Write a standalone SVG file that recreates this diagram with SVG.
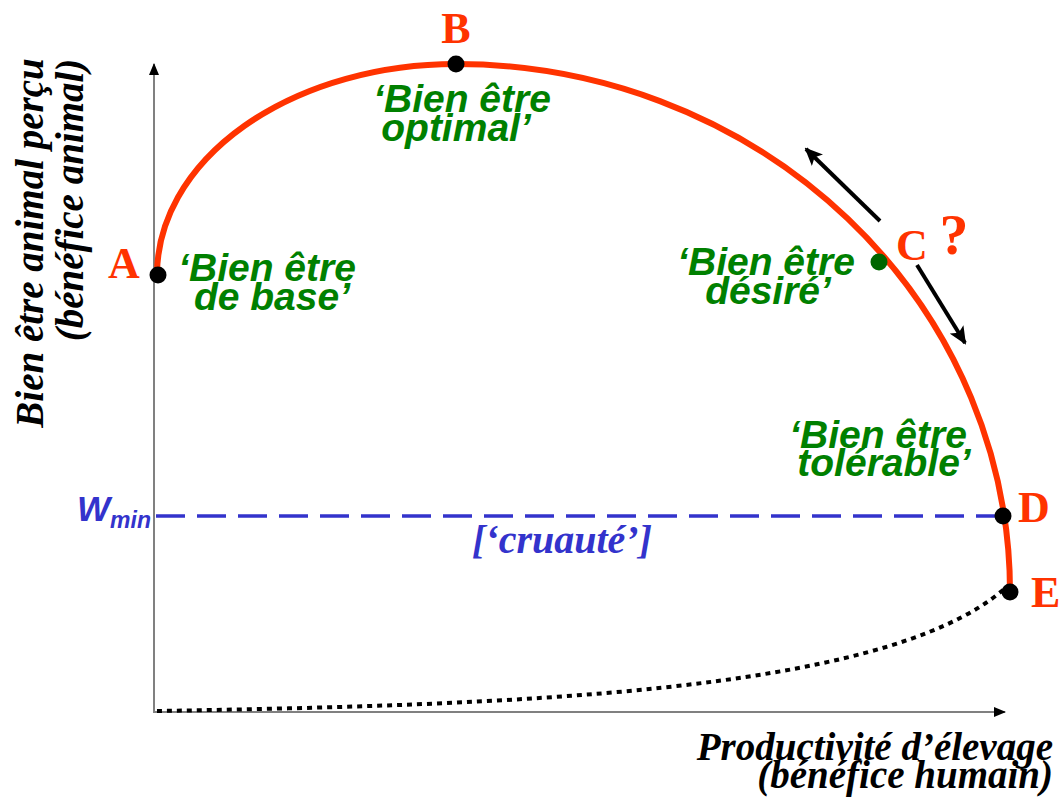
<svg xmlns="http://www.w3.org/2000/svg" width="1059" height="801" viewBox="0 0 1059 801">
<defs>
<style>
.axis{stroke:#808080;stroke-width:2;fill:none}
.curve{stroke:#FF3300;stroke-width:6;fill:none}
.lbl{font-family:"Liberation Serif","Times New Roman",serif;font-weight:bold;fill:#FF3300;font-size:44px}
.q{font-size:58px}
.zone{font-family:"Liberation Sans",Arial,sans-serif;font-weight:bold;font-style:italic;fill:#008000;font-size:39px;text-anchor:middle}
.ax{font-family:"Liberation Serif","Times New Roman",serif;font-weight:bold;font-style:italic;fill:#000;font-size:39px}
.dot{fill:#000}
</style>
<marker id="axh" markerWidth="12" markerHeight="10" refX="11" refY="5" orient="auto" markerUnits="userSpaceOnUse">
<path d="M0,0 L12,5 L0,10 Z" fill="#000"/>
</marker>
<marker id="arh" markerWidth="18" markerHeight="16" refX="16" refY="8" orient="auto" markerUnits="userSpaceOnUse">
<path d="M0,0 L18,8 L0,16 L4,8 Z" fill="#000"/>
</marker>
</defs>
<rect width="1059" height="801" fill="#fff"/>
<g id="axes">
<line class="axis" x1="154" y1="713" x2="154" y2="64" marker-end="url(#axh)"/>
<line class="axis" x1="153" y1="712" x2="1005" y2="712" marker-end="url(#axh)"/>
</g>
<g id="connectors">
<path class="curve" d="M157,275 A299,211 0 0 1 456,64 A554,528 0 0 1 1010,592"/>
<path d="M157,711 C500,705 880,695 1003,590" fill="none" stroke="#000" stroke-width="4" stroke-dasharray="5 5"/>
<line x1="156" y1="516" x2="1000" y2="516" stroke="#3333CC" stroke-width="3.5" stroke-dasharray="29 12"/>
<line x1="880" y1="221" x2="806" y2="149" stroke="#000" stroke-width="4" marker-end="url(#arh)"/>
<line x1="917" y1="265" x2="965" y2="343" stroke="#000" stroke-width="4" marker-end="url(#arh)"/>
</g>
<g id="nodeA">
<circle class="dot" cx="158" cy="275" r="8.5"/>
<text class="lbl" x="124" y="278" text-anchor="middle">A</text>
</g>
<g id="nodeB">
<circle class="dot" cx="456" cy="64" r="8.5"/>
<text class="lbl" x="456" y="43" text-anchor="middle">B</text>
</g>
<g id="nodeC">
<circle cx="879" cy="262" r="8.5" fill="#006600"/>
<text class="lbl" x="912" y="260" text-anchor="middle">C</text>
<text class="lbl q" x="954" y="254" text-anchor="middle">?</text>
</g>
<g id="nodeD">
<circle class="dot" cx="1003" cy="516" r="8.5"/>
<text class="lbl" x="1018" y="522">D</text>
</g>
<g id="nodeE">
<circle class="dot" cx="1010" cy="592" r="8.5"/>
<text class="lbl" x="1031" y="607">E</text>
</g>
<g id="label-base">
<text class="zone" x="267" y="281">‘Bien être</text>
<text class="zone" x="272" y="310">de base’</text>
</g>
<g id="label-optimal">
<text class="zone" x="462" y="112">‘Bien être</text>
<text class="zone" x="456" y="141">optimal’</text>
</g>
<g id="label-desire">
<text class="zone" x="766" y="275">‘Bien être</text>
<text class="zone" x="768" y="304">désiré’</text>
</g>
<g id="label-tolerable">
<text class="zone" x="878" y="448">‘Bien être</text>
<text class="zone" x="884" y="476">tolérable’</text>
</g>
<g id="wmin">
<text font-family="Liberation Sans,Arial,sans-serif" font-weight="bold" font-style="italic" fill="#3333CC" x="77" y="521" font-size="35">W<tspan font-size="23" y="528">min</tspan></text>
<text font-family="Liberation Serif,Times New Roman,serif" font-weight="bold" font-style="italic" fill="#3333CC" x="562" y="553" font-size="40" text-anchor="middle">[‘cruauté’]</text>
</g>
<g id="ylabel">
<text class="ax" transform="translate(43,243) rotate(-90)" text-anchor="middle">Bien être animal perçu</text>
<text class="ax" transform="translate(83,200) rotate(-90)" text-anchor="middle">(bénéfice animal)</text>
</g>
<g id="xlabel">
<text class="ax" x="1053" y="760" text-anchor="end">Productivité d’élevage</text>
<text class="ax" x="1053" y="788" text-anchor="end">(bénéfice humain)</text>
</g>
</svg>
